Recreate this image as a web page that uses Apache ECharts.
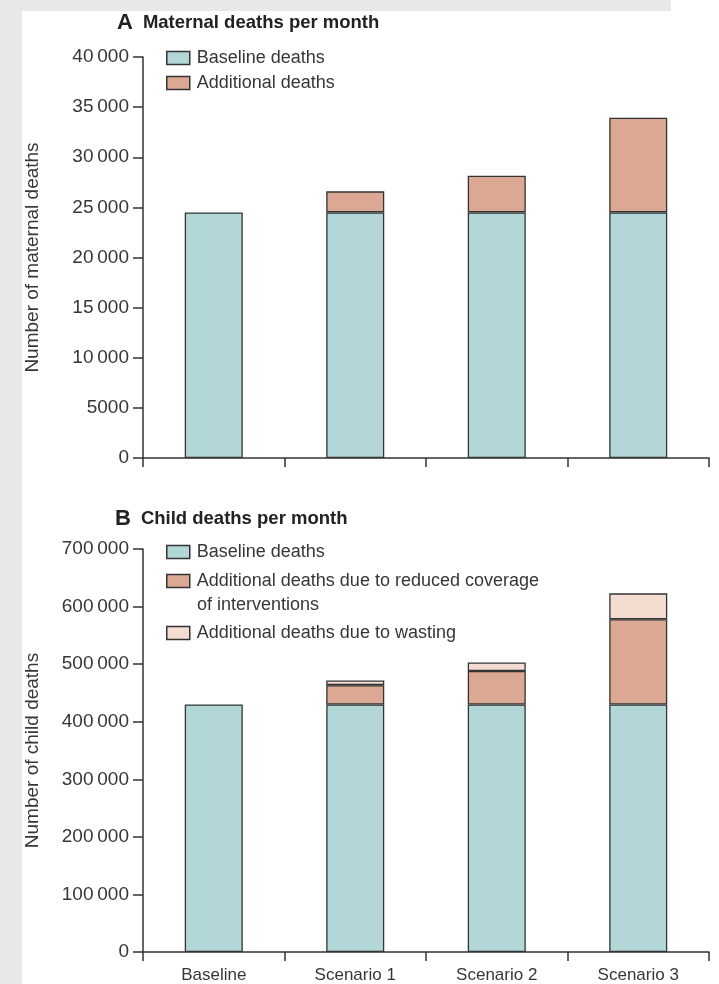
<!DOCTYPE html>
<html><head><meta charset="utf-8">
<script src="https://cdn.jsdelivr.net/npm/echarts@6/dist/echarts.min.js"></script>
<style>html,body{margin:0;padding:0;background:#fff}#c{width:719px;height:984px}</style>
</head><body><div id="c"></div>
<script>
var categories = ['Baseline', 'Scenario 1', 'Scenario 2', 'Scenario 3'];
// Panel A: maternal deaths per month
var maternalBaseline = [24500, 24500, 24500, 24500];
var maternalAdditional = [null, 2100, 3650, 9450];
// Panel B: child deaths per month
var childBaseline = [430000, 430000, 430000, 430000];
var childCoverage = [null, 33500, 58000, 148000];
var childWasting = [null, 8000, 15000, 45000];
var maternalTicks = {min: 0, max: 40000, interval: 5000};
var childTicks = {min: 0, max: 700000, interval: 100000};

var FONT = "'Liberation Sans', Arial, sans-serif";
var TXT = '#363636';
var LINE = '#333333';
var C_BASE = '#b3d7d8', C_ADD = '#dba893', C_WAST = '#f3ddd0';

function fmt(v) {
  var s = String(v);
  if (v < 10000) return s;
  return s.replace(/\B(?=(\d{3})+(?!\d))/g, '\u2009');
}
var COV_NAME = 'Additional deaths due to reduced coverage of interventions';

function yAx(idx, t, name) {
  return {
    type: 'value', gridIndex: idx, min: t.min, max: t.max, interval: t.interval,
    name: name, nameLocation: 'middle', nameGap: 101,
    nameTextStyle: {fontFamily: FONT, fontSize: 19, color: TXT},
    axisLine: {show: true, lineStyle: {color: LINE, width: 1.5}},
    axisTick: {show: true, length: 10, lineStyle: {color: LINE, width: 1.5}},
    axisLabel: {formatter: fmt, fontFamily: FONT, fontSize: 19, color: TXT, margin: 14},
    splitLine: {show: false}
  };
}
function xAx(idx, showLabels) {
  return {
    type: 'category', gridIndex: idx, data: categories,
    axisLine: {show: true, lineStyle: {color: LINE, width: 1.5}},
    axisTick: {show: true, length: 9, lineStyle: {color: LINE, width: 1.5}},
    axisLabel: {show: showLabels, fontFamily: FONT, fontSize: 17, color: TXT, margin: 15}
  };
}
function bar(name, data, color, xi, stack) {
  return {
    type: 'bar', name: name, data: data, xAxisIndex: xi, yAxisIndex: xi, stack: stack,
    barWidth: '41%',
    itemStyle: {color: color, borderColor: LINE, borderWidth: 1.3},
    emphasis: {disabled: true}
  };
}
var legendBase = {
  orient: 'vertical', left: 161, itemWidth: 23, itemHeight: 13,
  icon: 'rect',
  textStyle: {fontFamily: FONT, fontSize: 18, color: TXT, lineHeight: 20, padding: [0, 0, 0, 2]},
  itemStyle: {borderColor: LINE, borderWidth: 1.5},
  selectedMode: false
};
function legend(extra) { return Object.assign({}, legendBase, extra); }

var chart = echarts.init(document.getElementById('c'), null, {renderer: 'canvas'});
chart.setOption({
  backgroundColor: '#ffffff',
  animation: false,
  graphic: [
    {type: 'rect', left: 0, top: 0, shape: {width: 22, height: 984}, style: {fill: '#e8e8e8'}, z: -10},
    {type: 'rect', left: 0, top: 0, shape: {width: 671, height: 11}, style: {fill: '#e8e8e8'}, z: -10},
    {type: 'text', left: 197, top: 596, style: {text: 'of interventions', font: '18px ' + FONT, fill: TXT}}
  ],
  title: [
    {left: 112, top: 7, text: '{l|A}  {t|Maternal deaths per month}',
     textStyle: {rich: {l: {fontFamily: FONT, fontSize: 22, color: '#222'}, t: {fontFamily: FONT, fontSize: 18.5, fontWeight: 'bold', color: '#222'}}}},
    {left: 110, top: 503, text: '{l|B}  {t|Child deaths per month}',
     textStyle: {rich: {l: {fontFamily: FONT, fontSize: 22, color: '#222'}, t: {fontFamily: FONT, fontSize: 18.5, fontWeight: 'bold', color: '#222'}}}}
  ],
  legend: [
    legend({top: 43, itemGap: 5, data: ['Baseline deaths', 'Additional deaths']}),
    legend({top: 537, itemGap: 9, data: ['Baseline deaths ', COV_NAME],
      formatter: function (n) { return n === COV_NAME ? 'Additional deaths due to reduced coverage' : n.trim(); }}),
    legend({top: 618, data: ['Additional deaths due to wasting']})
  ],
  grid: [
    {left: 143, right: 10, top: 57, height: 401},
    {left: 143, right: 10, top: 549, height: 403}
  ],
  xAxis: [xAx(0, false), xAx(1, true)],
  yAxis: [yAx(0, maternalTicks, 'Number of maternal deaths'), yAx(1, childTicks, 'Number of child deaths')],
  series: [
    bar('Baseline deaths', maternalBaseline, C_BASE, 0, 'a'),
    bar('Additional deaths', maternalAdditional, C_ADD, 0, 'a'),
    bar('Baseline deaths ', childBaseline, C_BASE, 1, 'b'),
    bar(COV_NAME, childCoverage, C_ADD, 1, 'b'),
    bar('Additional deaths due to wasting', childWasting, C_WAST, 1, 'b')
  ]
});
</script></body></html>
